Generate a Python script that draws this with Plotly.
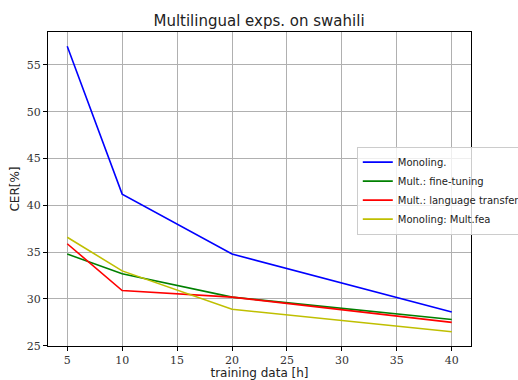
import plotly.graph_objects as go

hours = [5, 10, 20, 40]
monoling = [57.0, 41.2, 34.8, 28.6]
mult_ft = [34.8, 32.7, 30.2, 27.8]
mult_lt = [35.9, 30.9, 30.2, 27.5]
monoling_fea = [36.6, 33.0, 28.9, 26.5]

names = ["Monoling.", "Mult.: fine-tuning", "Mult.: language transfer", "Monoling: Mult.fea"]
colors = ["#0000ff", "#008000", "#ff0000", "#bfbf00"]
series = [monoling, mult_ft, mult_lt, monoling_fea]

x_ticks = [5, 10, 15, 20, 25, 30, 35, 40]
y_ticks = [25, 30, 35, 40, 45, 50, 55]

fig = go.Figure()
for n, c, s in zip(names, colors, series):
    fig.add_trace(go.Scatter(x=hours, y=s, mode="lines", name=n,
                             line=dict(color=c, width=1.6)))

axis_common = dict(showgrid=True, gridcolor="#b0b0b0", gridwidth=1,
                   showline=True, linecolor="#000000", linewidth=1, mirror=True,
                   ticks="outside", ticklen=4, tickcolor="#000000", zeroline=False,
                   tickfont=dict(family="DejaVu Serif", size=11, color="#333"))

fig.update_layout(
    width=518, height=380,
    margin=dict(l=48, r=47, t=32, b=34, autoexpand=False),
    paper_bgcolor="white", plot_bgcolor="white",
    font=dict(family="DejaVu Sans", color="#222"),
    title=dict(text="Multilingual exps. on swahili", x=0.5, xanchor="center",
               y=0.945, yanchor="middle",
               font=dict(family="DejaVu Sans", size=15, color="#222")),
    xaxis=dict(range=[3.25, 41.75], tickvals=x_ticks,
               title=dict(text="training data [h]", standoff=3,
                          font=dict(family="DejaVu Sans", size=12, color="#222")),
               **axis_common),
    yaxis=dict(range=[24.975, 58.525], tickvals=y_ticks,
               title=dict(text="CER[%]", standoff=4,
                          font=dict(family="DejaVu Sans", size=12, color="#222")),
               **axis_common),
    legend=dict(x=0.73, y=0.635, xanchor="left", yanchor="top",
                bgcolor="rgba(255,255,255,0.8)", bordercolor="#cccccc", borderwidth=1,
                font=dict(family="DejaVu Sans", size=10, color="#222"),
                tracegroupgap=0, itemwidth=30),
    showlegend=True,
)

fig.write_html("out.html", config={"displayModeBar": False},
               post_script="document.body.style.margin='0';document.body.style.padding='0';")
